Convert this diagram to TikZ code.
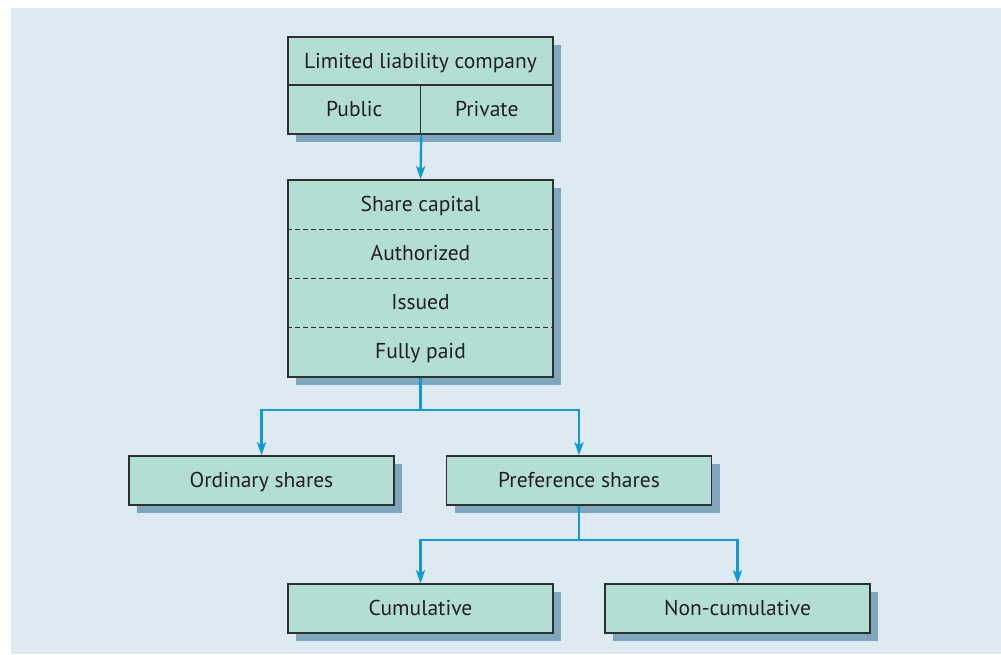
\documentclass[tikz,border=0pt]{standalone}
\usepackage{fontspec}
\setmainfont{PT Sans}
\usetikzlibrary{arrows.meta, shadows}
\usepackage{xcolor}
\definecolor{panelblue}{HTML}{DEEAF2}
\definecolor{boxgreen}{HTML}{B3DED3}
\definecolor{shadowblue}{HTML}{7EA6BC}
\definecolor{linkblue}{HTML}{0E9AD7}
\definecolor{edgegrey}{HTML}{2F2F2F}
\definecolor{inkgrey}{HTML}{231F20}
\def\boxw{265pt}
\def\boxh{49pt}

\begin{document}
\begin{tikzpicture}[x=1pt, y=-1pt, font=\fontsize{21.5}{25}\selectfont, text=inkgrey]
    \tikzstyle{box}=[rectangle, draw=edgegrey, line width=1.4pt, fill=boxgreen,
        minimum width=\boxw, minimum height=\boxh, inner sep=0pt,
        text height=16pt, text depth=2pt,
        general shadow={fill=shadowblue, shadow xshift=8pt, shadow yshift=-8pt}]
    \tikzstyle{halfbox}=[box, minimum width=132.5pt]
    \tikzstyle{row}=[inner sep=0pt, text height=16pt, text depth=2pt]
    \tikzstyle{divider}=[draw=edgegrey, line width=0.9pt, dash pattern=on 4.5pt off 3.5pt]
    \tikzstyle{link}=[draw=linkblue, line width=2.4pt]
    \tikzstyle{arrowlink}=[link, -{Stealth[length=13pt, width=9pt, inset=3pt]}]

    % panel and page
    \useasboundingbox (0,0) rectangle (1001,654);
    \fill[panelblue] (11,8) rectangle (1001,654);

    % company box
    \node[box, minimum height=48pt] (llc) at (420.5,61) {Limited liability company};
    \node[halfbox] (public) at (354.25,109.5) {Public};
    \node[halfbox] (private) at (486.75,109.5) {Private};

    % share capital box
    \node[box, minimum height=197pt] (capital) at (420.5,278.5) {};
    \foreach \i/\label in {1/Share capital, 2/Authorized, 3/Issued, 4/Fully paid}
        \node[row] (row-\i) at (420.5,155+49*\i) {\label};
    \foreach \i in {1,2,3}
        \draw[divider] (capital.west |- 0,180+49*\i) -- (capital.east |- 0,180+49*\i);

    % share types
    \node[box] (ordinary) at (261.5,480.5) {Ordinary shares};
    \node[box] (preference) at (579,480.5) {Preference shares};
    \node[box] (cumulative) at (420.5,608.5) {Cumulative};
    \node[box] (noncumulative) at (737.5,608.5) {Non-cumulative};

    % connectors
    \coordinate (split-1) at (420.5,410);
    \coordinate (split-2) at (579,540);
    \draw[arrowlink] (public.south east) -- (capital.north);
    \draw[link] (capital.south) -- (split-1);
    \foreach \dest in {ordinary, preference}
        \draw[arrowlink] (split-1) -| (\dest.north);
    \draw[link] (preference.south) -- (split-2);
    \foreach \dest in {cumulative, noncumulative}
        \draw[arrowlink] (split-2) -| (\dest.north);
\end{tikzpicture}
\end{document}
